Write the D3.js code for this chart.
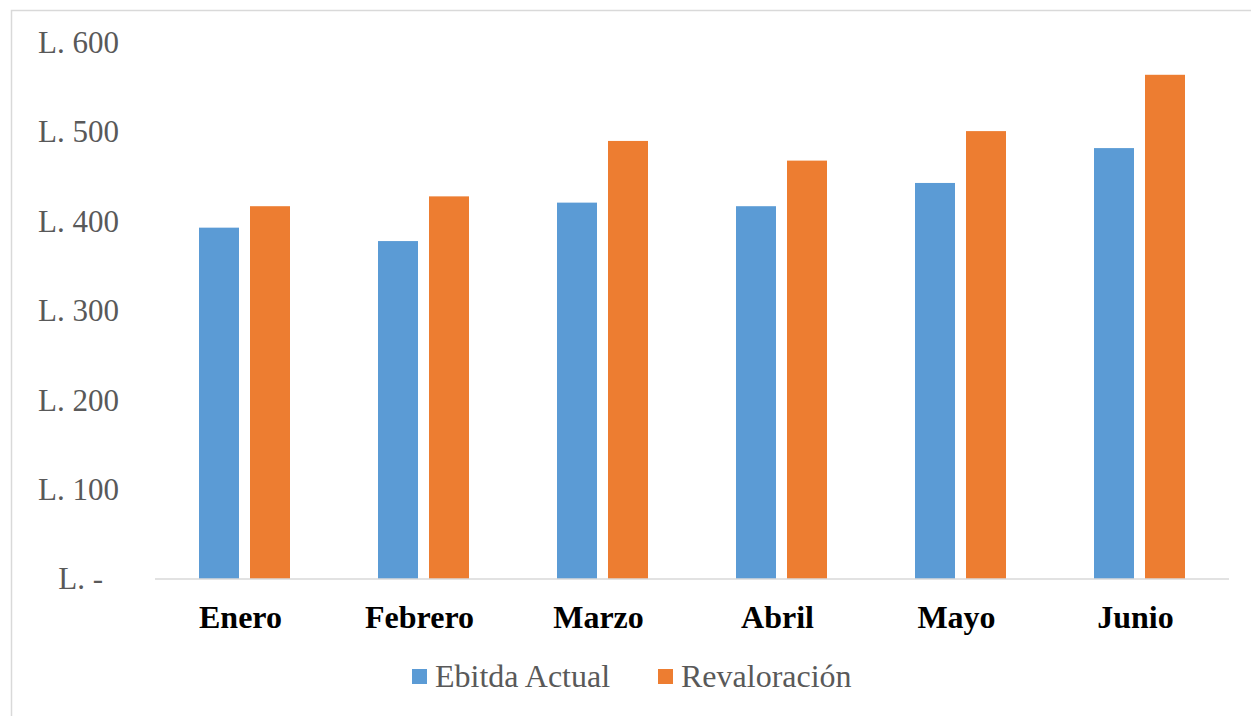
<!DOCTYPE html>
<html><head><meta charset="utf-8">
<script src="https://cdn.jsdelivr.net/npm/d3@7"></script>
<style>body{margin:0;background:#fff}svg{display:block}</style>
</head><body>
<svg id="c" width="1251" height="716"></svg>
<script>
const categories = ["Enero","Febrero","Marzo","Abril","Mayo","Junio"];
const seriesNames = ["Ebitda Actual","Revaloración"];
const ebitdaActual = [393, 378, 421, 417, 443, 482];
const revaloracion = [417, 428, 490, 468, 501, 564];
const yTicks = [0,100,200,300,400,500,600];
const colors = ["#5B9BD5","#ED7D31"];

const svg = d3.select("#c");
svg.append("rect").attr("x",11.5).attr("y",10.5).attr("width",1260).attr("height",720)
  .attr("fill","#fff").attr("stroke","#d9d9d9").attr("stroke-width",1.5);

const x0 = d3.scaleBand().domain(categories).range([155,1229]).paddingInner(0).paddingOuter(0);
const y = d3.scaleLinear().domain([0,600]).range([579,42.6]);
const barW = 40, gap = 11;
const groupW = barW*2+gap;
const x1 = d3.scaleOrdinal().domain(seriesNames).range([0, barW+gap]);

const series = [ebitdaActual, revaloracion];
seriesNames.forEach((name,si)=>{
  svg.append("g").selectAll("rect").data(categories).join("rect")
    .attr("x", (c)=> x0(c) + (x0.bandwidth()-groupW)/2 + x1(name))
    .attr("y", (c,i)=> y(series[si][i]))
    .attr("width", barW)
    .attr("height", (c,i)=> y(0)-y(series[si][i]))
    .attr("fill", colors[si]);
});

// baseline
svg.append("line").attr("x1",155).attr("x2",1229).attr("y1",y(0)).attr("y2",y(0))
  .attr("stroke","#d9d9d9").attr("stroke-width",1.5);

// y axis labels
const yAxis = d3.axisLeft(y).tickValues(yTicks).tickSize(0).tickPadding(0)
  .tickFormat(d=> d===0 ? "L. -" : "L. " + d);
const ya = svg.append("g").attr("transform","translate(119,0)").call(yAxis);
ya.select(".domain").remove();
ya.selectAll("text").attr("font-family","'Liberation Serif','Times New Roman',serif")
  .attr("font-size",31).attr("fill","#595959")
  .attr("dx", d=> d===0 ? -16 : 0);

// x axis labels
const xAxis = d3.axisBottom(x0).tickSize(0).tickPadding(0);
const xa = svg.append("g").attr("transform","translate(0,"+(y(0))+")").call(xAxis);
xa.select(".domain").remove();
xa.selectAll("text").attr("font-family","'Liberation Serif','Times New Roman',serif")
  .attr("font-size",32).attr("font-weight","bold").attr("fill","#000")
  .attr("dy",null).attr("y",49).attr("dx",-4);

// legend
const legX = [412, 658];
const leg = svg.append("g");
seriesNames.forEach((name,i)=>{
  leg.append("rect").attr("x",legX[i]).attr("y",669).attr("width",15).attr("height",15).attr("fill",colors[i]);
  leg.append("text").attr("x",legX[i]+23).attr("y",687)
    .attr("font-family","'Liberation Serif','Times New Roman',serif").attr("font-size",32)
    .attr("fill","#595959").text(name);
});
</script>
</body></html>
